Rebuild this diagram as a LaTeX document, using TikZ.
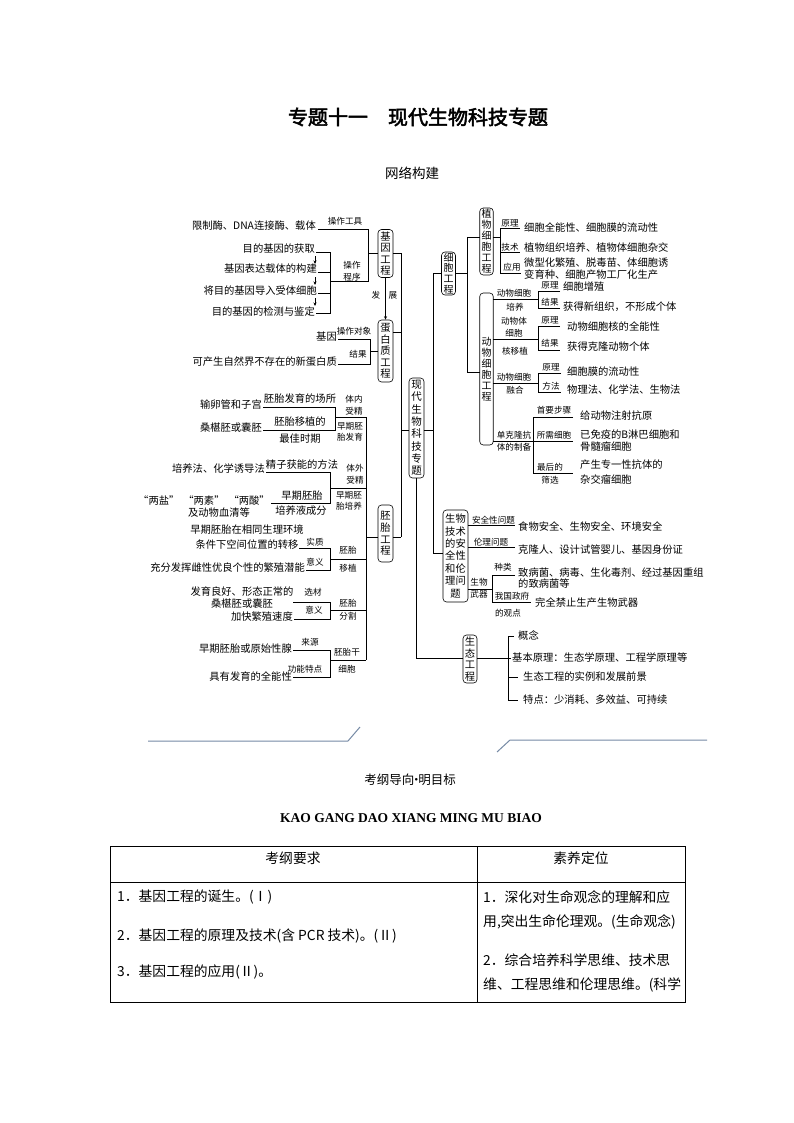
\documentclass[tikz,border=0pt]{standalone}
\usepackage{fontspec}
\setmainfont{Noto Sans CJK SC}
\newfontfamily\titlefont[FakeBold=2.5]{Noto Sans CJK SC}
\newfontfamily\latinserif{Liberation Serif}
\usetikzlibrary{arrows.meta}
\tikzset{
  tx/.style={inner sep=0pt, font=\fontsize{10.3}{12}\selectfont},
  lb/.style={inner sep=0pt, align=center, font=\fontsize{8.6}{11.5}\selectfont},
  vbox/.style={draw, line width=0.6pt, rounded corners=3.5pt, inner sep=0pt, align=center, font=\fontsize{10.3}{11.6}\selectfont},
  ln/.style={line width=0.6pt},
  arr/.style={line width=0.6pt, -{Stealth[length=3.5pt,width=3pt]}},
  sep/.style={line width=1pt, color={rgb,255:red,118;green,138;blue,165}},
  tb/.style={inner sep=0pt, font=\fontsize{13.8}{16}\selectfont},
}
\begin{document}
\begin{tikzpicture}[x=1pt,y=-1pt]
\useasboundingbox (0,0) rectangle (794,1123);
\fill[white] (0,0) rectangle (794,1123);

% titles
\node[inner sep=0pt, font=\titlefont\fontsize{20}{22}\selectfont] (title) at (418,117) {专题十一　现代生物科技专题};
\node[inner sep=0pt, font=\fontsize{13.5}{15}\selectfont] (wl) at (412,173) {网络构建};

% ================= 基因工程 =================
\node[vbox, minimum width=15pt, minimum height=48pt] (gc) at (385.5,253.5) {基\\因\\工\\程};
\node[tx, anchor=east] (g1) at (316,226) {限制酶、DNA连接酶、载体};
\node[lb] (l1) at (345,221) {操作工具};
\draw[ln] (318,229) -- (368,229) -- (368,281) -- (330,281);
\draw[ln] (368,253.5) -- (gc.west);
\node[lb, font=\fontsize{8.6}{12}\selectfont] (l2) at (352,271) {操作\\程序};
\node[tx, anchor=east] (s1) at (315,249) {目的基因的获取};
\node[tx, anchor=east] (s2) at (317,269) {基因表达载体的构建};
\node[tx, anchor=east] (s3) at (317,291) {将目的基因导入受体细胞};
\node[tx, anchor=east] (s4) at (315,312) {目的基因的检测与鉴定};
\draw[ln] (316,252) -- (330,252) -- (330,313) -- (316,313);
\draw[ln] (318,272) -- (330,272);
\draw[ln] (318,293) -- (330,293);
\draw[arr] (315,256) -- (315,264);
\draw[arr] (315,277) -- (315,285);
\draw[arr] (315,298) -- (315,306);

% ================= 蛋白质工程 =================
\node[vbox, minimum width=15pt, minimum height=62pt] (pc) at (385.5,351) {蛋\\白\\质\\工\\程};
\draw[arr] (gc.south) -- (pc.north);
\node[lb] (fa) at (376,295) {发};
\node[lb] (zh) at (393,295) {展};
\node[tx, anchor=east] (p1) at (337,337) {基因};
\node[tx, anchor=east] (p2) at (337,362) {可产生自然界不存在的新蛋白质};
\node[lb] (l3) at (354,331) {操作对象};
\node[lb] (l4) at (358,354) {结果};
\draw[ln] (338,339) -- (370,339) -- (370,364) -- (338,364);
\draw[ln] (370,351) -- (pc.west);

% left spine
\draw[ln] (gc.east) -- (401,253.5) -- (401,537);
\draw[ln] (393,332) -- (401,332);

% ================= centre =================
\node[vbox, minimum width=15pt, minimum height=100pt, font=\fontsize{10.5}{12.3}\selectfont] (cn) at (416.5,428) {现\\代\\生\\物\\科\\技\\专\\题};
\draw[ln] (401,430) -- (cn.west |- 401,430);

% ================= 胚胎工程 =================
\node[vbox, minimum width=15pt, minimum height=57pt, font=\fontsize{10.3}{11.7}\selectfont] (ec) at (385.5,533.5) {胚\\胎\\工\\程};
\draw[ln] (ec.east |- 393,537) -- (401,537);
\draw[ln] (366,417) -- (366,660);
\draw[ln] (366,537) -- (ec.west |- 378,537);

% group A
\node[tx, anchor=east] (a1) at (262,405) {输卵管和子宫};
\node[tx] (a1t) at (300,399) {胚胎发育的场所};
\node[tx, anchor=east] (a2) at (262,428) {桑椹胚或囊胚};
\node[tx] (a2t) at (300,422) {胚胎移植的};
\node[tx] (a2b) at (300,438.5) {最佳时期};
\draw[ln] (263,407) -- (335,407) -- (335,430) -- (263,430);
\draw[ln] (335,417) -- (366,417);
\node[lb] (la1) at (354,405) {体内\\受精};
\node[lb] (la2) at (350,432) {早期胚\\胎发育};

% group B
\node[tx, anchor=east] (b1) at (265,469) {培养法、化学诱导法};
\node[tx] (b1t) at (302,465) {精子获能的方法};
\node[tx, anchor=east] (b2) at (270,501) {“两盐”\hspace{4pt}“两素”\hspace{4pt}“两酸”};
\node[tx] (b2c) at (219,513) {及动物血清等};
\node[tx] (b2t) at (302,496) {早期胚胎};
\node[tx] (b2b) at (301,511) {培养液成分};
\draw[ln] (266,472) -- (330,472) -- (330,503) -- (271,503);
\draw[ln] (330,488) -- (366,488);
\node[lb] (lb1) at (355,474) {体外\\受精};
\node[lb] (lb2) at (349,501) {早期胚\\胎培养};

% group C
\node[tx, align=center, font=\fontsize{10.3}{15}\selectfont] (c1) at (247,537.5) {早期胚胎在相同生理环境\\条件下空间位置的转移};
\node[tx, anchor=east] (c2) at (305,568) {充分发挥雌性优良个性的繁殖潜能};
\draw[ln] (299,548) -- (330,548) -- (330,570) -- (306,570);
\draw[ln] (330,559) -- (366,559);
\node[lb] (lc1) at (315,542) {实质};
\node[lb] (lc2) at (315,562) {意义};
\node[lb] (lc3) at (348,550) {胚胎};
\node[lb] (lc4) at (348,568) {移植};

% group D
\node[tx, align=center, font=\fontsize{10.3}{11.5}\selectfont] (d1) at (242,597.5) {发育良好、形态正常的\\桑椹胚或囊胚};
\node[tx, anchor=east] (d2) at (293,617) {加快繁殖速度};
\draw[ln] (293,602) -- (330,602) -- (330,619) -- (294,619);
\draw[ln] (330,610) -- (366,610);
\node[lb] (ld1) at (313,592) {选材};
\node[lb] (ld2) at (314,610) {意义};
\node[lb] (ld3) at (348,603) {胚胎};
\node[lb] (ld4) at (348,616) {分割};

% group E
\node[tx, anchor=east] (e1) at (292,649) {早期胚胎或原始性腺};
\node[tx, anchor=east] (e2) at (292,677) {具有发育的全能性};
\draw[ln] (293,650) -- (330,650) -- (330,677) -- (293,677);
\draw[ln] (330,660) -- (366,660);
\node[lb] (le1) at (310,642) {来源};
\node[lb] (le2) at (305,669) {功能特点};
\node[lb] (le3) at (347,652) {胚胎干};
\node[lb] (le4) at (347,669) {细胞};

% ================= right side =================
\draw[ln] (cn.east |- 424,430) -- (433,430);
\draw[ln] (433,273.5) -- (433,553);

\node[vbox, minimum width=14pt, minimum height=43pt, font=\fontsize{10}{10.8}\selectfont] (cc) at (448.5,273.5) {细\\胞\\工\\程};
\draw[ln] (433,273.5) -- (cc.west);
\draw[ln] (cc.east) -- (467,273.5);
\draw[ln] (467,237) -- (467,372);

\node[vbox, minimum width=13.5pt, minimum height=67pt, font=\fontsize{10}{11}\selectfont] (pl) at (486.5,241.5) {植\\物\\细\\胞\\工\\程};
\draw[ln] (467,237) -- (480,237);
\draw[ln] (493,237) -- (500,237);
\draw[ln] (500,228) -- (500,273);
\node[lb] (q1) at (510,223) {原理};
\draw[ln] (500,228) -- (520,228);
\node[tx, anchor=west] (q1t) at (524,228) {细胞全能性、细胞膜的流动性};
\node[lb] (q2) at (510,247) {技术};
\draw[ln] (500,252) -- (520,252);
\node[tx, anchor=west] (q2t) at (524,248) {植物组织培养、植物体细胞杂交};
\node[lb] (q3) at (512,267) {应用};
\draw[ln] (500,273) -- (521,273);
\node[tx, anchor=west, align=left, font=\fontsize{10.3}{12}\selectfont] (q3t) at (524,269) {微型化繁殖、脱毒苗、体细胞诱\\变育种、细胞产物工厂化生产};

\node[vbox, minimum width=13.5pt, minimum height=152pt, font=\fontsize{10}{11}\selectfont] (an) at (486.5,369) {动\\物\\细\\胞\\工\\程};
\draw[ln] (467,372) -- (480,372);

% G1
\node[lb] (r1) at (514,293) {动物细胞};
\node[lb] (r1b) at (515,307) {培养};
\draw[ln] (493,299) -- (538,299);
\draw[ln] (560,291) -- (538,291) -- (538,308) -- (560,308);
\node[lb] (r1p) at (550,285) {原理};
\node[lb] (r1r) at (550,302) {结果};
\node[tx, anchor=west] (r1pt) at (563,287) {细胞增殖};
\node[tx, anchor=west] (r1rt) at (563,307) {获得新组织，不形成个体};

% G2
\node[lb] (r2) at (514,327) {动物体\\细胞};
\node[lb] (r2b) at (515,351) {核移植};
\draw[ln] (493,339) -- (538,339);
\draw[ln] (560,326) -- (538,326) -- (538,350) -- (560,350);
\node[lb] (r2p) at (550,320) {原理};
\node[lb] (r2r) at (550,343) {结果};
\node[tx, anchor=west] (r2pt) at (567,327) {动物细胞核的全能性};
\node[tx, anchor=west] (r2rt) at (567,347) {获得克隆动物个体};

% G3
\node[lb] (r3) at (514,377) {动物细胞};
\node[lb] (r3b) at (515,390) {融合};
\draw[ln] (493,383) -- (538,383);
\draw[ln] (561,373) -- (538,373) -- (538,392) -- (561,392);
\node[lb] (r3p) at (551,367) {原理};
\node[lb] (r3r) at (551,386) {方法};
\node[tx, anchor=west] (r3pt) at (567,372) {细胞膜的流动性};
\node[tx, anchor=west] (r3rt) at (567,390) {物理法、化学法、生物法};

% G4
\node[lb] (r4) at (514,435) {单克隆抗};
\node[lb] (r4b) at (514,447) {体的制备};
\draw[ln] (493,441) -- (533,441);
\draw[ln] (573,417) -- (533,417) -- (533,473) -- (573,473);
\draw[ln] (533,441) -- (573,441);
\node[lb] (r4a) at (554,410) {首要步骤};
\node[lb] (r4c) at (554,435) {所需细胞};
\node[lb] (r4d) at (550,467) {最后的};
\node[lb] (r4e) at (550,480) {筛选};
\node[tx, anchor=west] (r4at) at (580,416) {给动物注射抗原};
\node[tx, anchor=west, align=left, font=\fontsize{10.3}{12}\selectfont] (r4ct) at (580,441) {已免疫的B淋巴细胞和\\骨髓瘤细胞};
\node[tx, anchor=west, align=left, font=\fontsize{10.3}{15}\selectfont] (r4et) at (580,472.5) {产生专一性抗体的\\杂交瘤细胞};

% ================= 安全性和伦理 =================
\node[vbox, minimum width=25pt, minimum height=92pt, font=\fontsize{10.3}{12.4}\selectfont] (sb) at (455.5,556) {生物\\技术\\的安\\全性\\和伦\\理问\\题};
\draw[ln] (433,553) -- (sb.west |- 443,553);
\node[lb] (u1) at (493.5,520) {安全性问题};
\draw[ln] (468,525) -- (515,525);
\node[tx, anchor=west] (u1t) at (518,527) {食物安全、生物安全、环境安全};
\node[lb] (u2) at (491,542) {伦理问题};
\draw[ln] (468,547) -- (515,547);
\node[tx, anchor=west] (u2t) at (518,550) {克隆人、设计试管婴儿、基因身份证};
\node[lb, font=\fontsize{8.6}{12}\selectfont] (u3) at (479,588) {生物\\武器};
\draw[ln] (468,589) -- (492,589);
\draw[ln] (515,575) -- (492,575) -- (492,602) -- (531,602);
\node[lb] (u3a) at (503,567) {种类};
\node[tx, anchor=west, align=left, font=\fontsize{10.3}{11.5}\selectfont] (u3at) at (518,578) {致病菌、病毒、生化毒剂、经过基因重组\\的致病菌等};
\node[lb] (u3b) at (512,596) {我国政府};
\node[lb] (u3c) at (508,613) {的观点};
\node[tx, anchor=west] (u3bt) at (535,603) {完全禁止生产生物武器};

% ================= 生态工程 =================
\node[vbox, minimum width=14pt, minimum height=48pt, font=\fontsize{10.3}{11.7}\selectfont] (eco) at (470,659) {生\\态\\工\\程};
\draw[ln] (cn.south) -- (416.5,658) -- (eco.west |- 463,658);
\draw[ln] (eco.east |- 477,658) -- (511,658);
\draw[ln] (514,636) -- (508,636) -- (508,700) -- (518,700);
\draw[ln] (508,677) -- (518,677);
\node[tx, anchor=west] (f1) at (518,636) {概念};
\node[tx, anchor=west] (f2) at (512,658) {基本原理：生态学原理、工程学原理等};
\node[tx, anchor=west] (f3) at (523,677) {生态工程的实例和发展前景};
\node[tx, anchor=west] (f4) at (523,700) {特点：少消耗、多效益、可持续};

% separators
\draw[sep] (148,741) -- (348,741) -- (360,727);
\draw[sep] (497,752) -- (510,740) -- (707,740);

% ================= bottom =================
\node[inner sep=0pt, font=\fontsize{12.5}{14}\selectfont] (kg) at (410,780) {考纲导向\makebox[4pt]{·}明目标};
\node[inner sep=0pt, font=\latinserif\bfseries\fontsize{13.5}{15}\selectfont] (kgp) at (411,818) {KAO GANG DAO XIANG MING MU BIAO};

\draw[line width=0.8pt] (110,846) rectangle (685,1002);
\draw[line width=0.8pt] (477,846) -- (477,1002);
\draw[line width=0.8pt] (110,882) -- (685,882);
\node[tb] (h1) at (293,858) {考纲要求};
\node[tb] (h2) at (581,858) {素养定位};
\node[tb, anchor=west] (k1) at (117,897) {1．基因工程的诞生。(Ⅰ)};
\node[tb, anchor=west] (k2) at (117,936) {2．基因工程的原理及技术(含 PCR 技术)。(Ⅱ)};
\node[tb, anchor=west] (k3) at (117,972) {3．基因工程的应用(Ⅱ)。};
\node[tb, anchor=west] (m1) at (483,897) {1．深化对生命观念的理解和应};
\node[tb, anchor=west] (m2) at (483,922) {用,突出生命伦理观。(生命观念)};
\node[tb, anchor=west] (m3) at (483,960) {2．综合培养科学思维、技术思};
\node[tb, anchor=west] (m4) at (483,985) {维、工程思维和伦理思维。(科学};
\end{tikzpicture}
\end{document}
